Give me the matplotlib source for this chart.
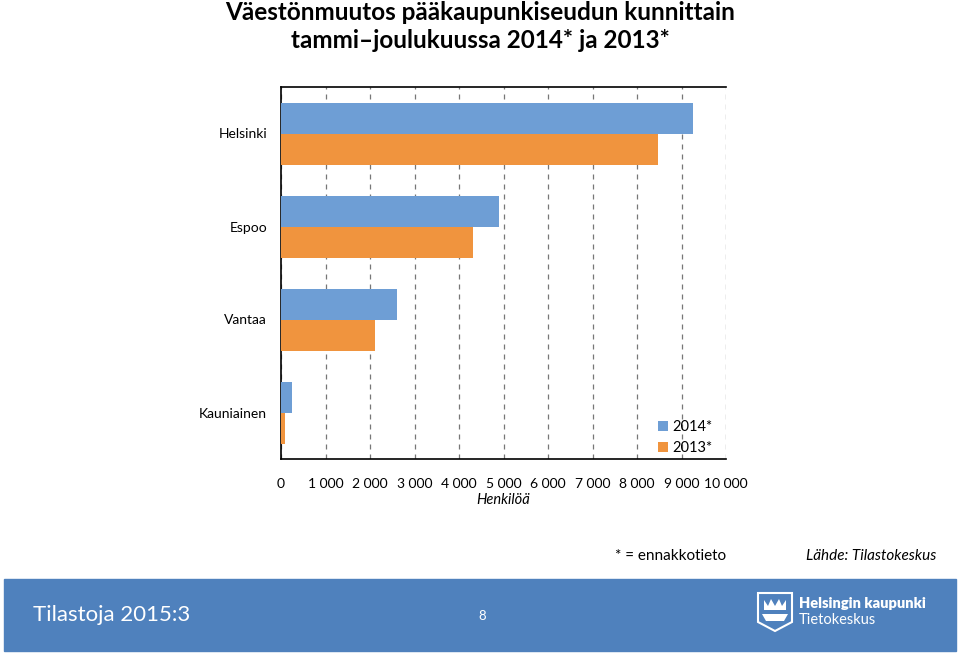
import numpy as np
import matplotlib.pyplot as plt
from matplotlib.patches import Rectangle, Polygon

plt.rcParams['font.family'] = ['Lato', 'DejaVu Sans']

kunnat = ['Helsinki', 'Espoo', 'Vantaa', 'Kauniainen']
v2014 = [9250, 4890, 2610, 250]
v2013 = [8470, 4320, 2120, 90]
xticks = list(range(0, 10001, 1000))
xlabels = ['0'] + ['{} 000'.format(i) for i in range(1, 11)]

blue = '#6E9ED5'
orange = '#F0943E'

fig = plt.figure(figsize=(9.6, 6.53), dpi=100)
ax = fig.add_axes([281 / 960, 1 - 459 / 653, 445 / 960, 372 / 653])

y = np.arange(len(kunnat))
h = 1 / 3
ax.barh(y - h / 2, v2014, height=h, color=blue, label='2014*', zorder=3)
ax.barh(y + h / 2, v2013, height=h, color=orange, label='2013*', zorder=3)
ax.set_ylim(len(kunnat) - 0.5, -0.5)
ax.set_xlim(0, 10000)
ax.set_yticks(y)
ax.set_yticklabels(kunnat, fontsize=10)
ax.set_xticks(xticks)
ax.set_xticklabels(xlabels, fontsize=10)
ax.tick_params(length=0, pad=14)
ax.tick_params(axis='y', pad=10)
ax.xaxis.grid(True, linestyle=(0, (4, 4)), color='#777777', linewidth=0.9, zorder=0)
for s in ['left', 'top', 'bottom']:
    ax.spines[s].set_linewidth(1.2)
ax.spines['right'].set_visible(False)
ax.set_xlabel('Henkilöä', fontsize=10.5, style='italic', labelpad=2)

leg = ax.legend(loc='lower right', bbox_to_anchor=(1.0, -0.025), frameon=False, fontsize=10.5,
                handlelength=0.7, handleheight=0.7, handletextpad=0.3, labelspacing=0.5)

fig.text(0.5, 1 - 12 / 653, 'Väestönmuutos pääkaupunkiseudun kunnittain',
         ha='center', va='center', fontsize=17.5, fontweight='bold')
fig.text(0.5, 1 - 40 / 653, 'tammi–joulukuussa 2014* ja 2013*',
         ha='center', va='center', fontsize=17.5, fontweight='bold')

fig.text(615 / 960, 1 - 556 / 653, '* = ennakkotieto', fontsize=11, va='center')
fig.text(806 / 960, 1 - 556 / 653, 'Lähde: Tilastokeskus', fontsize=11, va='center', style='italic')

# footer band
fig.patches.append(Rectangle((4 / 960, 1 - 651 / 653), 952 / 960, 72 / 653,
                             transform=fig.transFigure, color='#4F81BD', zorder=0))
fig.text(33 / 960, 1 - 615 / 653, 'Tilastoja 2015:3', fontsize=16, color='white', va='center')
fig.text(482 / 960, 1 - 616 / 653, '8', fontsize=9.5, color='white', va='center', ha='center')

# logo
shield = [(758, 593), (792, 593), (792, 622), (775, 631), (758, 622)]
fig.patches.append(Polygon([(px / 960, 1 - py / 653) for px, py in shield], closed=True,
                           transform=fig.transFigure, facecolor='none', edgecolor='white', lw=1.5))
crown = [(764, 600), (768, 606), (771, 599), (775, 606), (779, 599), (782, 606), (786, 600),
         (786, 610), (764, 610)]
fig.patches.append(Polygon([(px / 960, 1 - py / 653) for px, py in crown], closed=True,
                           transform=fig.transFigure, facecolor='white', edgecolor='none'))
boat = [(762, 614), (788, 614), (784, 621), (766, 621)]
fig.patches.append(Polygon([(px / 960, 1 - py / 653) for px, py in boat], closed=True,
                           transform=fig.transFigure, facecolor='white', edgecolor='none'))
fig.text(799 / 960, 1 - 604 / 653, 'Helsingin kaupunki', fontsize=10.5, color='white',
         fontweight='heavy', va='center')
fig.text(799 / 960, 1 - 620 / 653, 'Tietokeskus', fontsize=10.5, color='white', va='center')

fig.savefig('out.png', dpi=100)
